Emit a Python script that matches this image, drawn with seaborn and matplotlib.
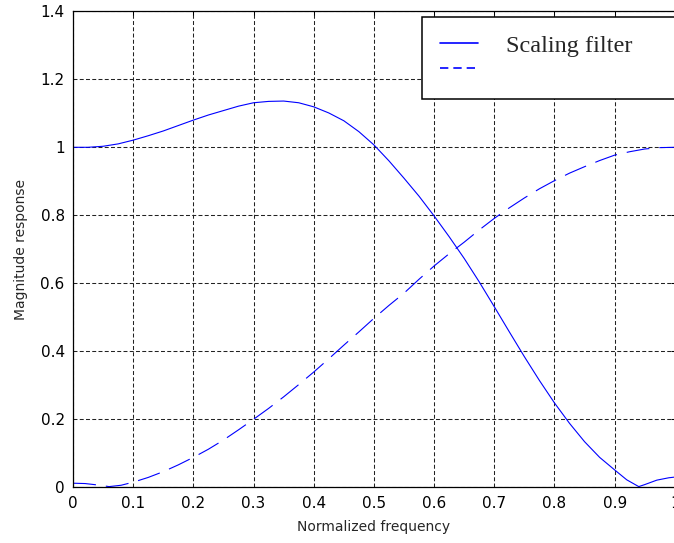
import matplotlib
matplotlib.use("Agg")
from matplotlib import pyplot as plt
from matplotlib import ticker
from matplotlib.lines import Line2D
import seaborn as sns

# values
freq_scaling = [0.0, 0.025, 0.05, 0.075, 0.1, 0.125, 0.15, 0.175, 0.2, 0.225, 0.25, 0.275,
                0.3, 0.325, 0.35, 0.375, 0.4, 0.425, 0.45, 0.475, 0.5, 0.525, 0.55, 0.575,
                0.6, 0.625, 0.65, 0.675, 0.7, 0.725, 0.75, 0.775, 0.8, 0.825, 0.85, 0.875,
                0.9, 0.92, 0.94, 0.95, 0.97, 0.99, 1.0]
mag_scaling = [1.000, 1.000, 1.003, 1.010, 1.021, 1.034, 1.048, 1.064, 1.080, 1.095, 1.108, 1.121,
               1.131, 1.135, 1.136, 1.131, 1.119, 1.101, 1.078, 1.046, 1.007, 0.960, 0.909, 0.856,
               0.798, 0.737, 0.673, 0.604, 0.531, 0.457, 0.384, 0.314, 0.248, 0.188, 0.134, 0.088,
               0.051, 0.022, 0.002, 0.008, 0.021, 0.028, 0.030]

freq_wavelet = [0.0, 0.02, 0.04, 0.06, 0.08, 0.1, 0.125, 0.15, 0.175, 0.2, 0.225, 0.25, 0.275,
                0.3, 0.325, 0.35, 0.375, 0.4, 0.425, 0.45, 0.475, 0.5, 0.525, 0.55, 0.575,
                0.6, 0.625, 0.65, 0.675, 0.7, 0.725, 0.75, 0.775, 0.8, 0.825, 0.85, 0.875,
                0.9, 0.925, 0.95, 0.975, 1.0]
mag_wavelet = [0.012, 0.011, 0.007, 0.002, 0.006, 0.015, 0.029, 0.046, 0.066, 0.088, 0.112, 0.139, 0.169,
               0.200, 0.232, 0.266, 0.302, 0.339, 0.378, 0.418, 0.457, 0.497, 0.535, 0.571, 0.612,
               0.651, 0.687, 0.721, 0.757, 0.791, 0.822, 0.851, 0.878, 0.902, 0.924, 0.943, 0.961,
               0.977, 0.987, 0.995, 0.999, 1.000]

x_ticks = [0, 0.1, 0.2, 0.3, 0.4, 0.5, 0.6, 0.7, 0.8, 0.9, 1.0]
y_ticks = [0, 0.2, 0.4, 0.6, 0.8, 1.0, 1.2, 1.4]

sns.set_style("white")
plt.rcParams['font.family'] = ['DejaVu Sans']

fig = plt.figure(figsize=(6.74, 5.43), dpi=100)
ax = fig.add_axes([0.1083, 0.1026, 0.893, 0.8766])

sns.lineplot(x=freq_scaling, y=mag_scaling, ax=ax, color='blue', lw=0.8, estimator=None)
sns.lineplot(x=freq_wavelet, y=mag_wavelet, ax=ax, color='blue', lw=0.8, estimator=None,
             linestyle=(0, (20.7, 9)))

ax.set_xlim(0, 1)
ax.set_ylim(0, 1.4)
ax.set_xticks(x_ticks)
ax.set_yticks(y_ticks)
ax.xaxis.set_major_formatter(ticker.FormatStrFormatter('%g'))
ax.yaxis.set_major_formatter(ticker.FormatStrFormatter('%g'))
ax.tick_params(direction='in', top=True, right=True, length=3, width=0.75,
               labelsize=11, pad=6, color='black', labelcolor='black')

ax.grid(True, color='#222222', linestyle=(0, (3.8, 2.2)), lw=0.75)
for s in ax.spines.values():
    s.set_color('black')
    s.set_linewidth(0.9)

ax.set_xlabel('Normalized frequency', fontsize=10, labelpad=7)
ax.set_ylabel('Magnitude response', fontsize=10, labelpad=9)

handles = [Line2D([], [], color='blue', lw=1.2),
           Line2D([], [], color='blue', lw=1.2, linestyle=(0, (5, 3)))]
leg = ax.legend(handles, ['Scaling filter', ''], loc='upper left',
                bbox_to_anchor=(0.58, 0.988, 0.42, 0.0), mode='expand',
                prop={'family': 'Liberation Serif', 'size': 17.5},
                handlelength=1.56, handletextpad=1.16, borderpad=0.72,
                labelspacing=0.12, borderaxespad=0, fancybox=False,
                framealpha=1, edgecolor='black')
leg.get_frame().set_linewidth(1.1)

fig.savefig('out.png', dpi=100)
